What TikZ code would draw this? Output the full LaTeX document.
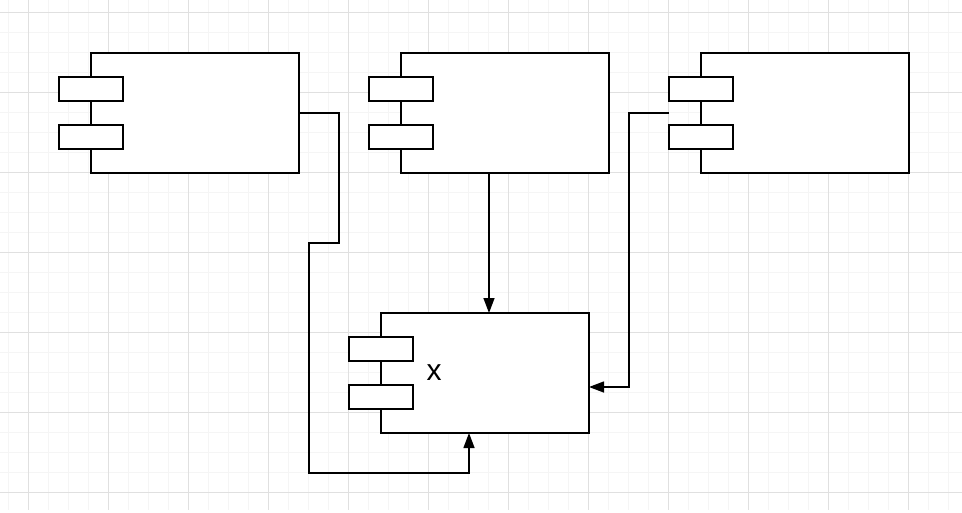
\documentclass[tikz,border=0pt]{standalone}
\usepackage{fontspec}
\setmainfont{Liberation Sans}
\usetikzlibrary{arrows.meta,calc}
\begin{document}
\begin{tikzpicture}[x=1pt,y=-1pt,
  mainbox/.style={draw=black, line width=1.4pt, fill=white, minimum width=208pt, minimum height=120pt, inner sep=0pt, outer sep=0pt},
  portbox/.style={draw=black, line width=1.4pt, fill=white, minimum width=64pt, minimum height=24pt, inner sep=0pt, outer sep=0pt},
  conn/.style={draw=black, line width=1.4pt, -{Triangle[length=15pt,width=11pt]}},
  minorgrid/.style={draw=black!4, line width=1pt},
  majorgrid/.style={draw=black!12, line width=1pt}]
\useasboundingbox (0,0) rectangle (962,512);
\fill[white] (0,0) rectangle (962,512);
% grid
\foreach \gx in {8,28,...,948} { \draw[minorgrid] (\gx,0) -- (\gx,510); }
\foreach \gy in {12,32,...,492} { \draw[minorgrid] (0,\gy) -- (962,\gy); }
\foreach \gx in {28,108,...,908} { \draw[majorgrid] (\gx,0) -- (\gx,510); }
\foreach \gy in {12,92,...,492} { \draw[majorgrid] (0,\gy) -- (962,\gy); }
% components
\node[mainbox] (b1) at (195,113) {};
\node[portbox] (p1a) at (91,89) {};
\node[portbox] (p1b) at (91,137) {};
\node[mainbox] (b2) at (505,113) {};
\node[portbox] (p2a) at (401,89) {};
\node[portbox] (p2b) at (401,137) {};
\node[mainbox] (b3) at (805,113) {};
\node[portbox] (p3a) at (701,89) {};
\node[portbox] (p3b) at (701,137) {};
\node[mainbox] (bx) at (485,373) {};
\node[portbox] (pxa) at (381,349) {};
\node[portbox] (pxb) at (381,397) {};
\node[font=\fontsize{30}{30}\selectfont, inner sep=0pt, anchor=base] (lx) at (434,380) {x};
% connectors
\draw[conn] (b1.east) -- ++(40,0) -- ++(0,130) -- ++(-30,0) -- ++(0,230) -- ($(bx.south)+(-16,40)$) -- ($(bx.south)+(-16,0)$);
\draw[conn] ($(b2.south)+(-16,0)$) -- ($(bx.north)+(4,0)$);
\draw[conn] (b3.west -| p3a.west) -- ++(-40,0) |- ($(bx.east)+(0,14)$);
\end{tikzpicture}
\end{document}
